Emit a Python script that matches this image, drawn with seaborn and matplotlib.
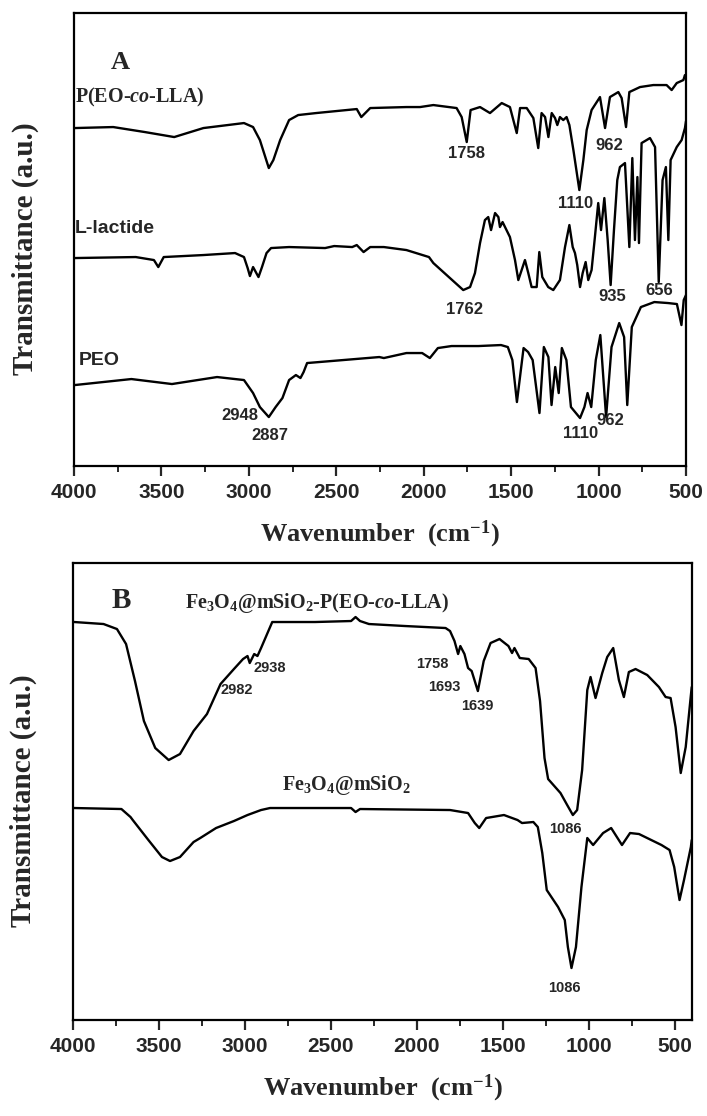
import numpy as np
import pandas as pd
import matplotlib
matplotlib.use("Agg")
import matplotlib.pyplot as plt
from matplotlib.ticker import MultipleLocator
import seaborn as sns

# ---- panel A: P(EO-co-LLA), L-lactide, PEO (wavenumber, transmittance a.u.)
copo_wn = [4000, 3995, 3776, 3595, 3427, 3260, 3028, 2976, 2937, 2886, 2860, 2821, 2770, 2718,
           2615, 2383, 2357, 2306, 2099, 2021, 1945, 1812, 1783, 1754, 1732, 1678, 1621, 1554,
           1507, 1468, 1449, 1411, 1373, 1345, 1326, 1306, 1287, 1268, 1249, 1236, 1221, 1202,
           1183, 1167, 1144, 1110, 1087, 1068, 1040, 992, 963, 935, 887, 868, 843, 824, 763,
           687, 611, 582, 553, 515, 506, 500]
copo_t = [338, 338, 339, 334, 329, 338, 343, 339, 326, 298, 306, 326, 346, 351,
          353, 357, 349, 358, 359, 359, 361, 358, 349, 324, 356, 359, 353, 363,
          359, 333, 358, 358, 348, 318, 353, 349, 329, 353, 348, 341, 349, 346,
          349, 341, 316, 276, 306, 336, 356, 369, 338, 369, 374, 368, 339, 374, 379,
          381, 381, 376, 383, 386, 391, 388]

lla_wn = [4000, 3995, 3647, 3543, 3518, 3487, 3260, 3079, 3028, 3007, 2994, 2976, 2945, 2925,
          2899, 2873, 2770, 2564, 2512, 2409, 2383, 2344, 2306, 2228, 2099, 1970, 1945, 1869,
          1774, 1735, 1707, 1678, 1650, 1631, 1615, 1592, 1573, 1564, 1549, 1507, 1478, 1459,
          1440, 1421, 1402, 1383, 1354, 1339, 1322, 1288, 1259, 1221, 1192, 1167, 1148, 1135,
          1122, 1106, 1091, 1074, 1059, 1040, 1021, 1002, 986, 967, 948, 931, 912, 893, 878,
          849, 824, 807, 792, 778, 769, 754, 706, 677, 656, 634, 615, 601, 588, 553, 525,
          506, 500]
lla_t = [208, 208, 209, 206, 199, 209, 211, 213, 209, 198, 190, 199, 189, 199,
         213, 218, 219, 218, 220, 219, 221, 214, 219, 219, 216, 209, 203, 191,
         176, 179, 193, 223, 246, 249, 236, 253, 249, 239, 244, 229, 206, 186,
         196, 206, 193, 179, 179, 214, 189, 179, 176, 186, 219, 241, 219, 213,
         201, 179, 193, 204, 186, 196, 229, 263, 236, 268, 226, 181, 236, 286, 299,
         303, 219, 308, 226, 289, 223, 323, 328, 319, 184, 286, 299, 226, 306, 319, 326,
         338, 345]

peo_wn = [4000, 3995, 3672, 3440, 3182, 3028, 2976, 2937, 2886, 2847, 2808, 2770, 2731, 2705,
          2687, 2667, 2460, 2254, 2228, 2099, 2009, 1965, 1919, 1841, 1687, 1558, 1519, 1493,
          1467, 1429, 1403, 1377, 1338, 1313, 1287, 1269, 1248, 1228, 1210, 1184, 1158, 1106,
          1081, 1063, 1042, 1016, 990, 957, 926, 882, 854, 836, 810, 758, 681, 603, 552, 526,
          513, 500]
peo_t = [81, 81, 87, 82, 89, 86, 73, 59, 49, 59, 68, 86, 91, 88,
         94, 103, 106, 109, 108, 113, 113, 108, 118, 120, 120, 121, 119, 106,
         64, 118, 114, 106, 53, 119, 109, 61, 99, 73, 118, 106, 59, 48,
         59, 73, 59, 106, 131, 49, 119, 143, 129, 61, 139, 159, 164, 163, 162, 141,
         166, 171]

# ---- panel B: Fe3O4@mSiO2-P(EO-co-LLA) and Fe3O4@mSiO2
hyb_wn = [4000, 3995, 3824, 3746, 3693, 3641, 3589, 3523, 3445, 3379, 3300, 3222, 3143, 3065,
          3012, 2986, 2973, 2947, 2928, 2907, 2842, 2816, 2593, 2383, 2357, 2331, 2279, 2069,
          1833, 1807, 1781, 1760, 1747, 1723, 1702, 1681, 1645, 1611, 1571, 1519, 1467, 1446,
          1432, 1401, 1349, 1309, 1283, 1257, 1236, 1164, 1125, 1092, 1067, 1038, 1008, 989,
          960, 921, 892, 857, 824, 795, 766, 727, 659, 591, 552, 523, 494, 464, 435, 406, 400]
hyb_t = [398, 398, 396, 391, 376, 339, 299, 272, 260, 266, 289, 306, 336, 351,
         361, 364, 357, 366, 364, 372, 398, 398, 398, 399, 403, 399, 396, 394,
         392, 389, 379, 366, 374, 366, 352, 349, 329, 359, 377, 381, 374, 367,
         372, 362, 361, 352, 319, 262, 241, 227, 215, 205, 210, 250, 330, 343,
         322, 347, 363, 372, 340, 323, 348, 351, 345, 333, 323, 322, 293, 247, 273, 323, 333]

msn_wn = [4000, 3995, 3720, 3667, 3654, 3563, 3484, 3437, 3379, 3300, 3261, 3169, 3065, 2986,
          2907, 2855, 2383, 2357, 2331, 1807, 1702, 1663, 1637, 1597, 1493, 1414, 1388, 1322,
          1296, 1270, 1244, 1178, 1139, 1121, 1100, 1074, 1042, 1008, 974, 916, 869, 806, 759,
          707, 576, 529, 502, 471, 445, 405, 400]
msn_t = [212, 212, 211, 203, 200, 180, 163, 159, 163, 178, 182, 192, 199, 205,
         210, 212, 212, 208, 211, 210, 207, 197, 192, 202, 205, 200, 197, 198,
         193, 167, 130, 113, 100, 73, 52, 73, 133, 182, 175, 187, 192, 175, 187,
         186, 175, 170, 153, 120, 140, 173, 180]

sns.set_style("ticks")
plt.rcParams["font.family"] = ["Liberation Sans", "DejaVu Sans"]
plt.rcParams["font.weight"] = "bold"
plt.rcParams["mathtext.fontset"] = "custom"
plt.rcParams["mathtext.rm"] = "Liberation Serif:bold"
plt.rcParams["mathtext.it"] = "Liberation Serif:bold:italic"
plt.rcParams["mathtext.bf"] = "Liberation Serif:bold"

serif = "Liberation Serif"

fig = plt.figure(figsize=(7.07, 11.16), dpi=100)
axA = fig.add_axes([0.1047, 0.5824, 0.8656, 0.4059])
axB = fig.add_axes([0.1037, 0.0860, 0.8747, 0.4095])

for wn, t, ax in [(copo_wn, copo_t, axA), (lla_wn, lla_t, axA), (peo_wn, peo_t, axA),
                  (hyb_wn, hyb_t, axB), (msn_wn, msn_t, axB)]:
    df = pd.DataFrame({"wn": wn, "t": t})
    sns.lineplot(data=df, x="wn", y="t", ax=ax, color="black", lw=1.7,
                 estimator=None, sort=False)

axA.set_xlim(4000, 500)
axA.set_ylim(0, 453)
axB.set_xlim(4000, 400)
axB.set_ylim(0, 457)

for ax in (axA, axB):
    ax.set_xticks(np.arange(4000, 499, -500))
    ax.xaxis.set_minor_locator(MultipleLocator(250))
    ax.set_yticks([])
    ax.tick_params(axis="x", which="major", direction="out", length=7, width=1.6,
                   labelsize=15, pad=5)
    ax.tick_params(axis="x", which="minor", direction="out", length=4, width=1.4)
    for s in ax.spines.values():
        s.set_linewidth(1.6)
        s.set_color("black")
    ax.set_xlabel("Wavenumber  (cm$^{-1}$)", family=serif, fontsize=19,
                  fontweight="bold", labelpad=12)
    ax.set_ylabel("Transmittance (a.u.)", family=serif, fontsize=21, fontweight="bold")
    ax.yaxis.set_label_coords(-0.058, 0.48)

# panel A labels
axA.text(3737, 404, "A", family=serif, fontsize=19, fontweight="bold", ha="center", va="center")
axA.text(3997, 369, "P(EO-$\\mathit{co}$-LLA)", family=serif, fontsize=14.5,
         fontweight="bold", ha="left", va="center")
axA.text(3994, 238, "L-lactide", fontsize=14, fontweight="bold", ha="left", va="center")
axA.text(3971, 106, "PEO", fontsize=14, fontweight="bold", ha="left", va="center")
for lab, x, y in [("1758", 1753, 313), ("962", 940, 321), ("1110", 1129, 263),
                  ("1762", 1764, 157), ("935", 923, 170), ("656", 654, 176),
                  ("2948", 3051, 51), ("2887", 2879, 31), ("1110", 1101, 33),
                  ("962", 935, 46)]:
    axA.text(x, y, lab, fontsize=12, fontweight="bold", ha="center", va="center")

# panel B labels
axB.text(3722, 420, "B", family=serif, fontsize=21, fontweight="bold", ha="center", va="center")
axB.text(3349, 412, "Fe$_3$O$_4$@mSiO$_2$-P(EO-$\\mathit{co}$-LLA)", family=serif,
         fontsize=14.5, fontweight="bold", ha="left", va="baseline")
axB.text(2784, 230, "Fe$_3$O$_4$@mSiO$_2$", family=serif, fontsize=14.5,
         fontweight="bold", ha="left", va="baseline")
for lab, x, y in [("2938", 2854, 352), ("2982", 3047, 330), ("1758", 1910, 356),
                  ("1693", 1840, 333), ("1639", 1647, 314), ("1086", 1135, 191),
                  ("1086", 1140, 32)]:
    axB.text(x, y, lab, fontsize=10.5, fontweight="bold", ha="center", va="center")

fig.savefig("out.png", dpi=100)
